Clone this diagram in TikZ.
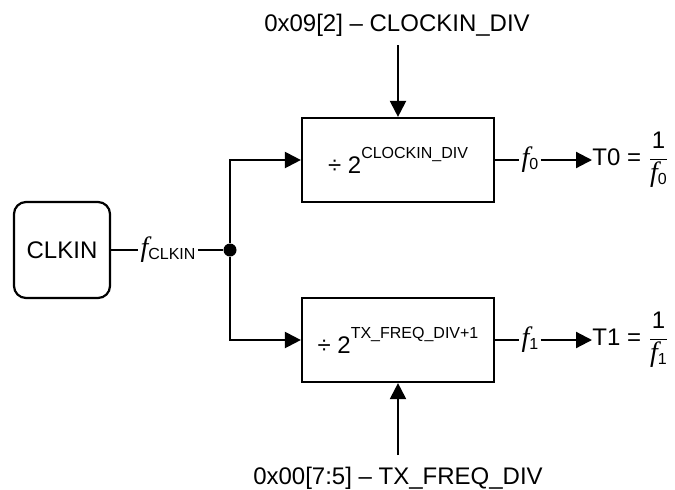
\documentclass[tikz,border=0pt]{standalone}
\usepackage{fontspec}
\setmainfont{Liberation Sans}
\newfontfamily\fserif{Liberation Serif}
\usetikzlibrary{arrows.meta}
\newcommand{\freq}[1]{{\fontsize{14}{16}\fserif\itshape f}\raisebox{-1.5pt}{\fontsize{8}{9}\selectfont #1}}
\newcommand{\powr}[1]{\raisebox{7.5pt}{\fontsize{8}{9}\selectfont #1}}

\begin{document}
\begin{tikzpicture}[x=0.5pt,y=-0.5pt,every node/.style={font=\fontsize{12}{14}\selectfont},srcbox/.style={draw,line width=1.1pt,rounded corners=6pt,minimum size=48pt,inner sep=0pt},divbox/.style={draw,line width=1.1pt,minimum width=96pt,minimum height=42pt,inner sep=0pt},lbl/.style={inner sep=1pt},dot/.style={circle,fill,minimum size=6.5pt,inner sep=0pt},sig/.style={line width=1.1pt},feed/.style={line width=1.1pt,-{Triangle[length=8pt,width=8pt]}}]
\useasboundingbox (0,0) rectangle (675,489);
\coordinate (in0) at (398,45);
\coordinate (in1) at (398,455);
\node[srcbox] (clkin) at (62,250) {CLKIN};
\node[lbl] (fclk) at (168,250) {\freq{CLKIN}};
\node[dot] (split) at (230,250) {};
\node[divbox] (div0) at (398,160) {÷ 2\powr{CLOCKIN\_DIV}};
\node[divbox] (div1) at (398,340) {÷ 2\powr{TX\_FREQ\_DIV+1}};
\node (reg0) at (397,25) {0x09[2] – CLOCKIN\_DIV};
\node (reg1) at (398,478) {0x00[7:5] – TX\_FREQ\_DIV};
\node[lbl] (f0) at (530,160) {\freq{0}};
\node[lbl] (f1) at (530,340) {\freq{1}};
\node[anchor=west,inner sep=0pt] (t0) at (592,160) {T0 = $\displaystyle\frac{\mbox{1}}{\mbox{\freq{0}}}$};
\node[anchor=west,inner sep=0pt] (t1) at (592,340) {T1 = $\displaystyle\frac{\mbox{1}}{\mbox{\freq{1}}}$};
\draw[sig] (clkin) -- (fclk) -- (split);
\draw[feed] (split) |- (div0);
\draw[feed] (split) |- (div1);
\draw[feed] (in0) -- (div0);
\draw[feed] (in1) -- (div1);
\draw[sig] (div0) -- (f0);
\draw[sig] (div1) -- (f1);
\draw[feed] (f0) -- (t0);
\draw[feed] (f1) -- (t1);
\end{tikzpicture}
\end{document}
